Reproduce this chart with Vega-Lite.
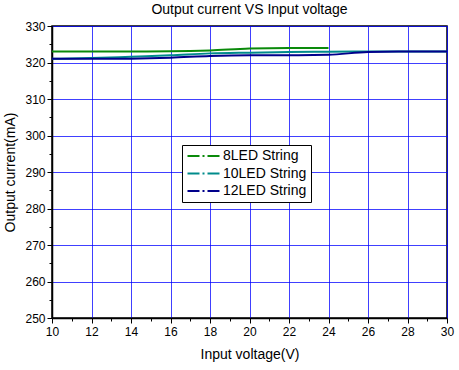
{
  "$schema": "https://vega.github.io/schema/vega-lite/v6.json",
  "autosize": "none",
  "width": 395,
  "height": 292,
  "padding": {"left": 52, "top": 26, "right": 12, "bottom": 52},
  "background": "white",
  "config": {
    "font": "Liberation Sans",
    "view": {"stroke": "black", "strokeWidth": 1.5},
    "axis": {"domainColor": "black", "tickColor": "black", "labelColor": "black", "titleColor": "black", "labelFont": "Liberation Sans", "titleFont": "Liberation Sans"}
  },
  "title": {"text": "Output current VS Input voltage", "fontSize": 14, "fontWeight": "normal", "font": "Liberation Sans", "offset": 3, "color": "black"},
  "data": {"values": [
    {"series": "8LED String", "v": 10, "i": 323},
    {"series": "8LED String", "v": 12, "i": 323},
    {"series": "8LED String", "v": 14, "i": 323},
    {"series": "8LED String", "v": 16, "i": 323.05},
    {"series": "8LED String", "v": 18, "i": 323.3},
    {"series": "8LED String", "v": 20, "i": 323.85},
    {"series": "8LED String", "v": 22, "i": 324},
    {"series": "8LED String", "v": 24, "i": 324},
    {"series": "10LED String", "v": 10, "i": 321},
    {"series": "10LED String", "v": 12, "i": 321.2},
    {"series": "10LED String", "v": 14, "i": 321.6},
    {"series": "10LED String", "v": 16, "i": 322},
    {"series": "10LED String", "v": 18, "i": 322.5},
    {"series": "10LED String", "v": 20, "i": 322.7},
    {"series": "10LED String", "v": 22, "i": 322.85},
    {"series": "10LED String", "v": 24, "i": 322.95},
    {"series": "10LED String", "v": 26, "i": 323},
    {"series": "10LED String", "v": 28, "i": 323},
    {"series": "10LED String", "v": 30, "i": 323},
    {"series": "12LED String", "v": 10, "i": 321},
    {"series": "12LED String", "v": 12, "i": 321},
    {"series": "12LED String", "v": 14, "i": 321.05},
    {"series": "12LED String", "v": 16, "i": 321.3},
    {"series": "12LED String", "v": 18, "i": 321.8},
    {"series": "12LED String", "v": 20, "i": 322},
    {"series": "12LED String", "v": 22, "i": 322},
    {"series": "12LED String", "v": 24, "i": 322.1},
    {"series": "12LED String", "v": 26, "i": 322.9},
    {"series": "12LED String", "v": 28, "i": 323},
    {"series": "12LED String", "v": 30, "i": 323}
  ]},
  "mark": {"type": "line", "strokeWidth": 2, "interpolate": "monotone"},
  "encoding": {
    "x": {"field": "v", "type": "quantitative", "scale": {"domain": [10, 30], "nice": false, "zero": false},
      "axis": {"title": "Input voltage(V)", "titleFontSize": 14, "titleFontWeight": "normal", "titlePadding": 10,
        "values": [10,11,12,13,14,15,16,17,18,19,20,21,22,23,24,25,26,27,28,29,30],
        "labelExpr": "datum.value % 2 === 0 ? datum.label : ''",
        "labelFontSize": 12, "labelPadding": 3,
        "tickSize": {"condition": {"test": "datum.value % 2 !== 0", "value": 3}, "value": 5},
        "grid": true, "gridColor": "#0000ff", "gridWidth": 1,
        "gridOpacity": {"condition": {"test": "datum.value % 2 !== 0", "value": 0}, "value": 0.75},
        "domainWidth": 1.5, "labelFlush": false}},
    "y": {"field": "i", "type": "quantitative", "scale": {"domain": [250, 330], "nice": false, "zero": false},
      "axis": {"title": "Output current(mA)", "titleFontSize": 14, "titleFontWeight": "normal", "titlePadding": 7,
        "values": [250,255,260,265,270,275,280,285,290,295,300,305,310,315,320,325,330],
        "labelExpr": "datum.value % 10 === 0 ? datum.label : ''",
        "labelFontSize": 12, "labelPadding": 2,
        "tickSize": {"condition": {"test": "datum.value % 10 !== 0", "value": 3}, "value": 5},
        "grid": true, "gridColor": "#0000ff", "gridWidth": 1,
        "gridOpacity": {"condition": {"test": "datum.value % 10 !== 0", "value": 0}, "value": 0.75},
        "domainWidth": 1.5, "labelFlush": false}},
    "color": {"field": "series", "type": "nominal",
      "scale": {"domain": ["8LED String", "10LED String", "12LED String"], "range": ["#0a8a0a", "#008b8b", "#00008b"]},
      "legend": {"title": null, "orient": "none", "legendX": 130, "legendY": 119, "symbolType": "M-3,0H3", "symbolStrokeWidth": 2, "symbolDash": [12, 3, 2, 3], "symbolSize": 121, "symbolOffset": 11, "labelFontSize": 14, "labelColor": "black", "rowPadding": 3.5, "strokeColor": "black", "padding": 4, "fillColor": "white", "labelOffset": 12}},
    "order": {"field": "v", "type": "quantitative"}
  }
}
